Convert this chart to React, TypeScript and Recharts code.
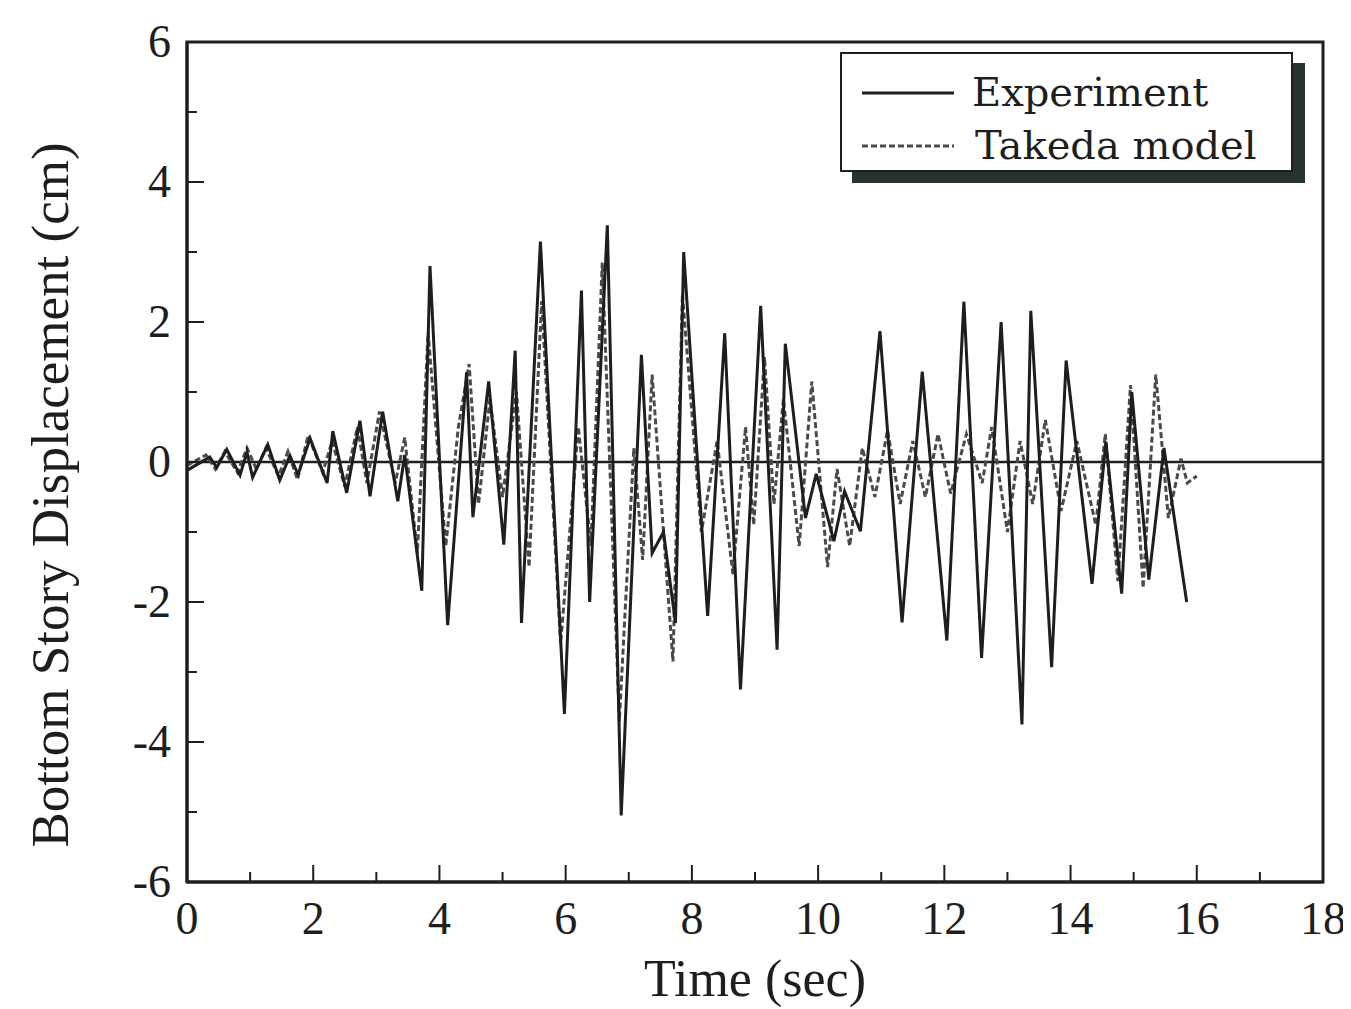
import React from "react";
import {
  LineChart,
  Line,
  XAxis,
  YAxis,
  ReferenceLine,
  ReferenceArea,
} from "recharts";

// time (sec) and displacement (cm)
const expTime = [
  0, 0.36, 0.47, 0.63, 0.84, 0.95, 1.04, 1.28, 1.47, 1.63, 1.76, 1.95, 2.22,
  2.31, 2.53, 2.74, 2.9, 3.1, 3.34, 3.45, 3.72, 3.85, 4.13, 4.43, 4.53, 4.78,
  5.02, 5.2, 5.3, 5.6, 5.98, 6.25, 6.38, 6.66, 6.88, 7.2, 7.37, 7.55, 7.74,
  7.87, 8.25, 8.52, 8.77, 9.09, 9.35, 9.48, 9.8, 9.97, 10.25, 10.42, 10.67,
  10.98, 11.33, 11.65, 12.04, 12.31, 12.59, 12.9, 13.23, 13.37, 13.7, 13.93,
  14.34, 14.56, 14.81, 14.97, 15.24, 15.48, 15.84,
];
const expDisp = [
  -0.12, 0.07, -0.08, 0.18, -0.19, 0.14, -0.22, 0.25, -0.26, 0.09, -0.18, 0.34,
  -0.3, 0.44, -0.44, 0.59, -0.49, 0.72, -0.56, 0.1, -1.84, 2.8, -2.33, 1.28,
  -0.79, 1.15, -1.18, 1.59, -2.3, 3.15, -3.6, 2.45, -2.0, 3.38, -5.05, 1.53,
  -1.3, -1.0, -2.3, 3.0, -2.2, 1.84, -3.25, 2.23, -2.68, 1.69, -0.8, -0.17,
  -1.13, -0.42, -0.99, 1.87, -2.29, 1.29, -2.55, 2.29, -2.8, 2.0, -3.75, 2.16,
  -2.93, 1.45, -1.74, 0.29, -1.88, 1.0, -1.68, 0.2, -2.0,
];

const takTime = [
  0, 0.3, 0.45, 0.6, 0.8, 0.95, 1.1, 1.25, 1.45, 1.6, 1.75, 1.92, 2.15, 2.3,
  2.5, 2.7, 2.85, 3.05, 3.3, 3.45, 3.65, 3.82, 4.1, 4.3, 4.47, 4.62, 4.8, 5.0,
  5.22, 5.42, 5.62, 5.92, 6.2, 6.4, 6.58, 6.85, 7.08, 7.22, 7.37, 7.55, 7.7,
  7.85, 8.15, 8.4, 8.65, 8.85, 8.98, 9.15, 9.3, 9.45, 9.7, 9.9, 10.15, 10.3,
  10.5, 10.7, 10.9, 11.1, 11.3, 11.5, 11.7, 11.9, 12.1, 12.35, 12.6, 12.75, 13.0,
  13.2, 13.4, 13.6, 13.85, 14.1, 14.4, 14.55, 14.75, 14.95, 15.15, 15.35, 15.55,
  15.75, 15.85, 16.0,
];
const takDisp = [
  -0.05, 0.1, -0.1, 0.15, -0.15, 0.2, -0.1, 0.2, -0.2, 0.15, -0.25, 0.38, -0.15,
  0.3, -0.35, 0.5, -0.3, 0.72, -0.3, 0.35, -1.3, 1.85, -1.2, 0.5, 1.4, -0.6,
  0.9, -0.5, 1.0, -1.5, 2.3, -2.6, 0.5, -1.2, 2.85, -3.7, 0.2, -1.4, 1.25, -1.0,
  -2.85, 2.4, -1.0, 0.3, -1.6, 0.5, -0.9, 1.5, -0.6, 0.9, -1.2, 1.15, -1.5,
  -0.1, -1.2, 0.2, -0.5, 0.45, -0.6, 0.3, -0.5, 0.4, -0.45, 0.4, -0.3, 0.5,
  -1.0, 0.3, -0.6, 0.6, -0.7, 0.3, -0.9, 0.4, -1.7, 1.1, -1.8, 1.25, -0.8, 0.05,
  -0.3, -0.2,
];

const xTicks = [0, 1, 2, 3, 4, 5, 6, 7, 8, 9, 10, 11, 12, 13, 14, 15, 16, 17, 18];
const yTicks = [-6, -5, -4, -3, -2, -1, 0, 1, 2, 3, 4, 5, 6];

const experiment = expTime.map((t, i) => ({ t, d: expDisp[i] }));
const takeda = takTime.map((t, i) => ({ t, d: takDisp[i] }));

const FONT = "'Liberation Serif', 'Times New Roman', serif";
const INK = "#1e1e1e";

const XTick = (props: any) => {
  const { x, y, payload } = props;
  const major = payload.value % 2 === 0;
  return (
    <g>
      <line x1={x} y1={y} x2={x} y2={y - (major ? 17 : 10)} stroke={INK} strokeWidth={2} />
      {major && (
        <text x={x} y={y + 52} textAnchor="middle" fontSize={46} fontFamily={FONT} fill={INK}>
          {payload.value}
        </text>
      )}
    </g>
  );
};

const YTick = (props: any) => {
  const { x, y, payload } = props;
  const major = payload.value % 2 === 0;
  return (
    <g>
      <line x1={x} y1={y} x2={x + (major ? 17 : 10)} y2={y} stroke={INK} strokeWidth={2} />
      {major && (
        <text x={x - 16} y={y + 15} textAnchor="end" fontSize={46} fontFamily={FONT} fill={INK}>
          {payload.value}
        </text>
      )}
    </g>
  );
};

const YTitle = () => (
  <text
    x={60}
    y={487}
    transform="rotate(-90, 60, 487)"
    textAnchor="middle"
    fontFamily={FONT}
    fontSize={53}
    fill={INK}
  >
    Bottom Story Displacement (cm)
  </text>
);

const LegendBox = () => (
  <div style={{ position: "absolute", left: 832, top: 44, width: 470, height: 135 }}>
    <div
      style={{
        position: "absolute",
        left: 12,
        top: 11,
        width: 453,
        height: 120,
        background: "#26332f",
      }}
    />
    <div
      style={{
        position: "absolute",
        left: 0,
        top: 0,
        width: 449,
        height: 116,
        border: `2px solid ${INK}`,
        background: "#fff",
        fontFamily: "'DejaVu Serif', serif",
        fontSize: 40,
        color: INK,
      }}
    >
      <svg width={120} height={116} style={{ position: "absolute", left: 0, top: 0 }}>
        <line x1={20} y1={39} x2={112} y2={39} stroke={INK} strokeWidth={3} />
        <line x1={20} y1={92} x2={112} y2={92} stroke="#4a4a4a" strokeWidth={3} strokeDasharray="6 3" />
      </svg>
      <div style={{ position: "absolute", left: 130, top: 14, lineHeight: "48px" }}>Experiment</div>
      <div style={{ position: "absolute", left: 133, top: 67, lineHeight: "48px" }}>Takeda model</div>
    </div>
  </div>
);

export default function App() {
  return (
    <div style={{ position: "relative", width: 1340, height: 1000 }}>
      <LineChart
        width={1340}
        height={1000}
        margin={{ top: 34, right: 25, left: 79, bottom: 0 }}
      >
        <XAxis
          dataKey="t"
          type="number"
          domain={[0, 18]}
          ticks={xTicks}
          interval={0}
          tickSize={0}
          tickMargin={0}
          tick={<XTick />}
          axisLine={{ stroke: INK, strokeWidth: 3 }}
          height={126}
          label={{
            value: "Time (sec)",
            position: "insideBottom",
            offset: 12,
            style: { fontFamily: FONT, fontSize: 52, fill: INK },
          }}
        />
        <YAxis
          dataKey="d"
          type="number"
          domain={[-6, 6]}
          ticks={yTicks}
          interval={0}
          tickSize={0}
          tickMargin={0}
          tick={<YTick />}
          axisLine={{ stroke: INK, strokeWidth: 3 }}
          width={100}
          label={{ content: <YTitle /> }}
        />
        <ReferenceArea
          x1={0}
          x2={18}
          y1={-6}
          y2={6}
          fill="none"
          stroke={INK}
          strokeWidth={3}
          ifOverflow="visible"
        />
        <ReferenceLine y={0} stroke={INK} strokeWidth={2.5} />
        <Line
          data={takeda}
          dataKey="d"
          name="Takeda model"
          type="linear"
          stroke="#4a4a4a"
          strokeWidth={3}
          strokeDasharray="6 3"
          dot={false}
          isAnimationActive={false}
        />
        <Line
          data={experiment}
          dataKey="d"
          name="Experiment"
          type="linear"
          stroke={INK}
          strokeWidth={3}
          dot={false}
          isAnimationActive={false}
        />
      </LineChart>
      <LegendBox />
    </div>
  );
}
